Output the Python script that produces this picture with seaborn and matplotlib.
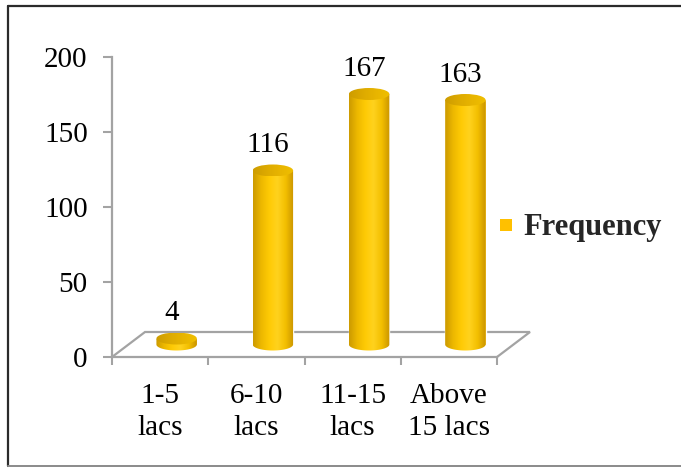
import numpy as np
import matplotlib
matplotlib.use("Agg")
import matplotlib.pyplot as plt
import seaborn as sns
from matplotlib.patches import Ellipse, Polygon
from matplotlib.lines import Line2D
from matplotlib.colors import LinearSegmentedColormap

# ---- data ----
categories = ["1-5\nlacs", "6-10\nlacs", "11-15\nlacs", "Above\n15 lacs"]
frequency = [4, 116, 167, 163]
y_ticks = [0, 50, 100, 150, 200]
series_name = "Frequency"

# ---- style ----
sns.set_theme(style="white")
plt.rcParams["font.family"] = ["Liberation Serif", "DejaVu Serif"]
FS = 21
GOLD = "#FFC000"
AXIS_GREY = "#A3A3A3"

W, H = 681, 471
fig = plt.figure(figsize=(W / 100, H / 100), dpi=100)
fig.patch.set_facecolor("white")


def box(left, top, right, bottom):
    return [left / W, 1 - bottom / H, (right - left) / W, (bottom - top) / H]


# front plane (value axis + category axis)
PL, PT, PR, PB = 112, 57, 497, 357
YMAX = 200
PX_PER_UNIT = (PB - PT) / YMAX
ax = fig.add_axes(box(PL, PT, PR, PB))
ax.set_facecolor("none")

# depth of the 3-D floor in pixels; bars stand halfway back
DX, DY = 33, 25
YLOW = -10  # room below zero for the rounded cylinder bases
ax2 = fig.add_axes(box(PL + DX / 2, PT - DY / 2, PR + DX / 2,
                       PB - DY / 2 - YLOW * PX_PER_UNIT))

BAR_W = 0.42
sns.barplot(x=categories, y=frequency, ax=ax2, color=GOLD, width=BAR_W,
            saturation=1, zorder=2)

body_cmap = LinearSegmentedColormap.from_list(
    "body", ["#CC9A00", "#EDB800", "#FFCB05", "#FFD21E", "#F3BF00", "#C99400"])
top_cmap = LinearSegmentedColormap.from_list(
    "top", ["#CD9C00", "#DDAA00", "#E8B500", "#F0BF00"])
grad = np.linspace(0, 1, 256).reshape(1, -1)

ELL_H = 12 / PX_PER_UNIT  # ellipse height in value units
t = np.linspace(np.pi, 2 * np.pi, 60)

for i, (patch, val) in enumerate(zip(ax2.patches, frequency)):
    x0, w, h = patch.get_x(), patch.get_width(), patch.get_height()
    xc = x0 + w / 2
    # cylinder body: rectangle closed by the lower half of the base ellipse
    base = np.column_stack([xc + (w / 2) * np.cos(t), (ELL_H / 2) * np.sin(t)])
    verts = np.vstack([[x0, h], [x0, 0], base, [x0 + w, 0], [x0 + w, h]])
    body = Polygon(verts, closed=True, transform=ax2.transData,
                   facecolor="none", edgecolor="none")
    im = ax2.imshow(grad, cmap=body_cmap, extent=(x0, x0 + w, -ELL_H, h),
                    aspect="auto", interpolation="bicubic", zorder=3)
    im.set_clip_path(body)
    # top cap
    cap = Ellipse((xc, h), w, ELL_H, transform=ax2.transData,
                  facecolor="none", edgecolor="none")
    im2 = ax2.imshow(grad, cmap=top_cmap,
                     extent=(x0, x0 + w, h - ELL_H / 2, h + ELL_H / 2),
                     aspect="auto", interpolation="bicubic", zorder=4)
    im2.set_clip_path(cap)
    ax2.annotate(f"{val}", xy=(xc, h), xytext=(-5, 25),
                 textcoords="offset pixels", ha="center", va="center",
                 fontsize=FS, color="black", zorder=5)

ax2.set_xlim(-0.5, len(categories) - 0.5)
ax2.set_ylim(YLOW, YMAX)
ax2.axis("off")

# ---- value / category axes on the front plane ----
ax.set_xlim(-0.5, len(categories) - 0.5)
ax.set_ylim(0, YMAX)
ax.set_yticks(y_ticks)
ax.set_yticklabels([str(v) for v in y_ticks], fontsize=FS)
ax.set_xticks(np.arange(-0.5, len(categories)))
ax.set_xticklabels([])
ax.set_xticks(range(len(categories)), labels=categories, minor=True)
for lbl in ax.get_xticklabels(minor=True):
    lbl.set_fontsize(FS)
    lbl.set_linespacing(1.3)
ax.tick_params(axis="y", which="major", length=6.5, width=1.5,
               color=AXIS_GREY, pad=11, labelcolor="black", left=True)
ax.tick_params(axis="x", which="major", length=6, width=1.5,
               color=AXIS_GREY, bottom=True)
ax.tick_params(axis="x", which="minor", length=0, pad=19, labelcolor="black")
for side in ("top", "right"):
    ax.spines[side].set_visible(False)
for side in ("left", "bottom"):
    ax.spines[side].set_color(AXIS_GREY)
    ax.spines[side].set_linewidth(1.6)
ax.grid(False)

# floor outline (side and back edges)
dxa = DX / (PR - PL)
dya = DY / (PB - PT)
floor = [(0, 0), (dxa, dya), (1 + dxa, dya), (1, 0)]
ax.add_line(Line2D([p[0] for p in floor], [p[1] for p in floor],
                   transform=ax.transAxes, color=AXIS_GREY, lw=1.6,
                   clip_on=False, solid_joinstyle="miter"))

# legend with a square key
key = Line2D([], [], marker="s", markersize=9, color=GOLD,
             markeredgewidth=0, linestyle="none", label=series_name)
fig.legend(handles=[key],
           loc="center left", bbox_to_anchor=(497 / W, 1 - 228 / H),
           frameon=False, prop={"weight": "bold", "size": 22},
           handlelength=0.6, handletextpad=0.25,
           borderpad=0, borderaxespad=0)

# chart frame
fig.add_artist(Line2D([7.5 / W, 7.5 / W], [1 - 6 / H, 1 - 466 / H],
                      color="#2b2b2b", lw=1.6))
fig.add_artist(Line2D([7.5 / W, 1.0], [1 - 6 / H, 1 - 6 / H],
                      color="#2b2b2b", lw=1.6))
fig.add_artist(Line2D([7.5 / W, 1.0], [1 - 466 / H, 1 - 466 / H],
                      color="#8a8a8a", lw=1.4))

fig.savefig("out.png", dpi=100)
